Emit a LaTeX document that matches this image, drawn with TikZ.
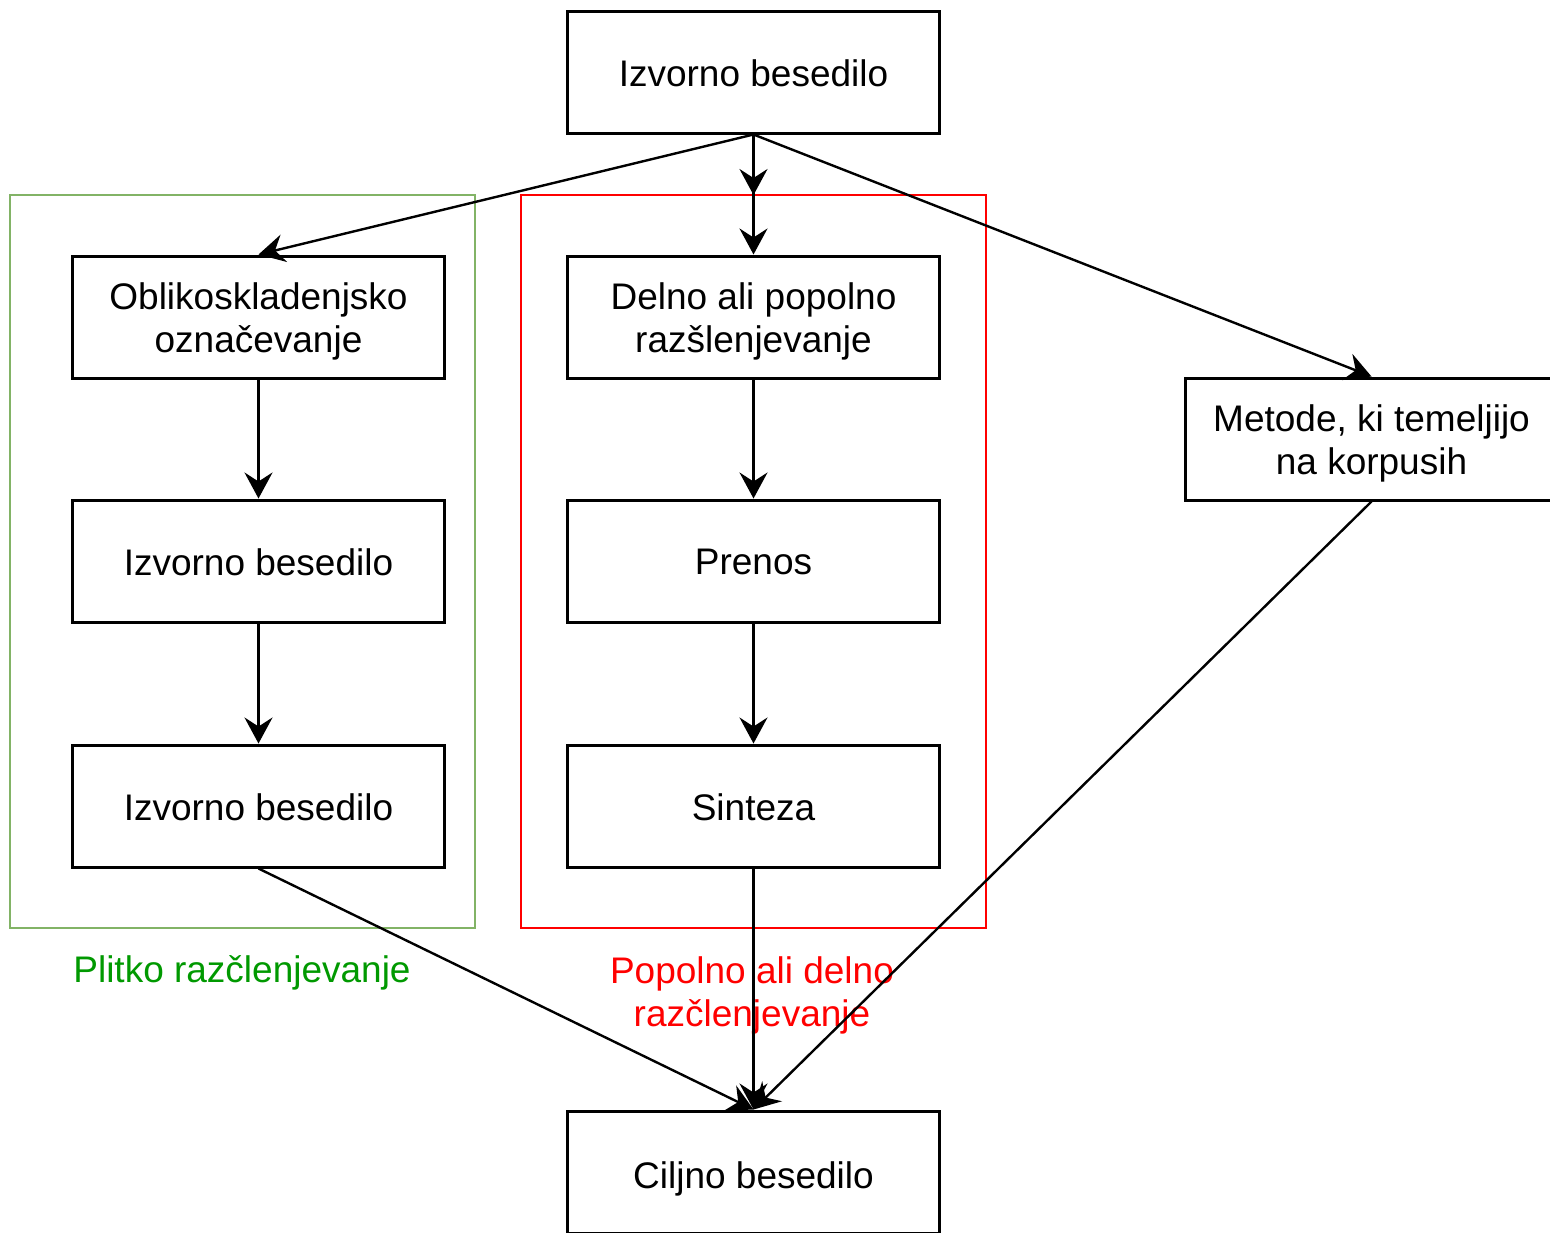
\documentclass[tikz,border=0pt]{standalone}
\usepackage{fontspec}
\setmainfont{Liberation Sans}
\usetikzlibrary{arrows.meta}
\definecolor{grp}{HTML}{82B366}
\definecolor{grt}{HTML}{009900}
\tikzset{
  box/.style={draw=black, line width=1.5pt, fill=white, minimum width=186pt, minimum height=61pt, inner sep=0pt},
  txt/.style={font=\fontsize{18.5}{21.5}\selectfont, align=center},
  conn/.style={draw=black, line width=1.2pt, -{Stealth[length=13pt,width=14pt,inset=4.5pt]}},
  grpbox/.style={draw=grp, line width=1.3pt},
  redbox/.style={draw=red, line width=1.3pt},
  lbl/.style={font=\fontsize{18.5}{21.5}\selectfont, align=center}
}
\begin{document}
\begin{tikzpicture}[x=0.5pt,y=-0.5pt]
\useasboundingbox (0,0) rectangle (1550,1232);
\clip (0,0) rectangle (1550,1232);
\fill[white] (0,0) rectangle (1550,1232);
% containers
\draw[grpbox] (10,195) rectangle (475,928);
\draw[redbox] (521,195) rectangle (986,928);
\coordinate (redtop) at (753.5,195);
% nodes
\node[box, label={[txt, yshift=-0.5pt]center:Izvorno besedilo}] (top) at (753.5,72) {};
\node[box, label={[txt, yshift=-2pt]center:Oblikoskladenjsko\\označevanje}] (l1) at (258.5,317) {};
\node[box, label={[txt, yshift=-0.5pt]center:Izvorno besedilo}] (l2) at (258.5,561) {};
\node[box, label={[txt, yshift=-0.5pt]center:Izvorno besedilo}] (l3) at (258.5,806) {};
\node[box, label={[txt, yshift=-2pt]center:Delno ali popolno\\razšlenjevanje}] (m1) at (753.5,317) {};
\node[box, label={[txt, yshift=-0.5pt]center:Prenos}] (m2) at (753.5,561) {};
\node[box, label={[txt, yshift=-0.5pt]center:Sinteza}] (m3) at (753.5,806) {};
\node[box, label={[txt, yshift=-2pt]center:Metode, ki temeljijo\\na korpusih}] (r1) at (1371.5,439) {};
\node[box, label={[txt, yshift=-3.5pt]center:Ciljno besedilo}] (bot) at (753.5,1172) {};
% labels
\node[lbl, text=grt] (lg) at (242,973) {Plitko razčlenjevanje};
\node[lbl, text=red] (lr) at (752,995) {Popolno ali delno\\razčlenjevanje};
% connectors
\draw[conn] (top.south) -- (l1.north);
\draw[conn] (top.south) -- (redtop);
\draw[conn] (top.south) -- (m1.north);
\draw[conn] (top.south) -- (r1.north);
\draw[conn] (l1) -- (l2);
\draw[conn] (l2) -- (l3);
\draw[conn] (m1) -- (m2);
\draw[conn] (m2) -- (m3);
\draw[conn] (l3.south) -- (bot.north);
\draw[conn] (m3.south) -- (bot.north);
\draw[conn] (r1.south) -- (bot.north);
\end{tikzpicture}
\end{document}
